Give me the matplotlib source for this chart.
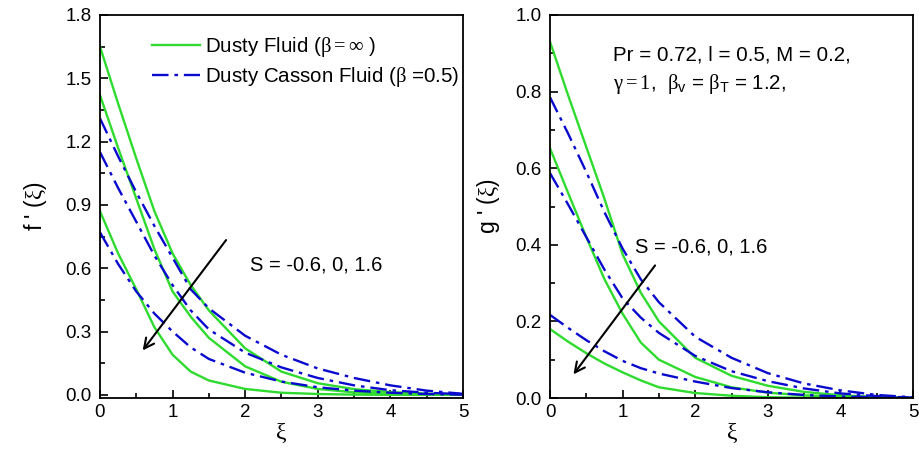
import matplotlib
matplotlib.use("Agg")
import matplotlib.pyplot as plt
from matplotlib.ticker import MultipleLocator, FormatStrFormatter

plt.rcParams['font.family'] = ['Liberation Sans', 'DejaVu Sans']
plt.rcParams['mathtext.fontset'] = 'custom'
plt.rcParams['mathtext.rm'] = 'Liberation Serif'
plt.rcParams['mathtext.it'] = 'Liberation Serif'
plt.rcParams['mathtext.bf'] = 'Liberation Serif:bold'
plt.rcParams['mathtext.sf'] = 'Liberation Sans'

xi = [0, 0.25, 0.5, 0.75, 1.0, 1.25, 1.5, 2.0, 2.5, 3.0, 3.5, 4.0, 4.5, 5.0]

# f'(xi): Dusty fluid (beta = inf), S = -0.6, 0, 1.6
f_dusty_s1 = [1.65, 1.38, 1.12, 0.87, 0.67, 0.52, 0.40, 0.22, 0.11, 0.055, 0.027, 0.013, 0.006, 0.002]
f_dusty_s2 = [1.42, 1.17, 0.93, 0.69, 0.49, 0.37, 0.27, 0.135, 0.062, 0.028, 0.012, 0.005, 0.002, 0.0]
f_dusty_s3 = [0.87, 0.67, 0.50, 0.32, 0.19, 0.11, 0.068, 0.028, 0.010, 0.004, 0.001, 0.0, 0.0, 0.0]
# f'(xi): Dusty Casson fluid (beta = 0.5)
f_casson_s1 = [1.31, 1.13, 0.96, 0.80, 0.65, 0.50, 0.41, 0.28, 0.19, 0.125, 0.08, 0.045, 0.02, 0.005]
f_casson_s2 = [1.15, 0.98, 0.82, 0.66, 0.52, 0.40, 0.31, 0.20, 0.13, 0.08, 0.045, 0.022, 0.01, 0.003]
f_casson_s3 = [0.77, 0.62, 0.49, 0.385, 0.30, 0.225, 0.17, 0.105, 0.063, 0.036, 0.02, 0.01, 0.004, 0.001]

# g'(xi)
g_dusty_s1 = [0.93, 0.79, 0.655, 0.52, 0.375, 0.275, 0.20, 0.105, 0.058, 0.032, 0.016, 0.007, 0.003, 0.0]
g_dusty_s2 = [0.652, 0.535, 0.42, 0.31, 0.22, 0.145, 0.10, 0.055, 0.028, 0.014, 0.007, 0.003, 0.001, 0.0]
g_dusty_s3 = [0.18, 0.147, 0.117, 0.09, 0.067, 0.046, 0.028, 0.013, 0.006, 0.002, 0.001, 0.0, 0.0, 0.0]
g_casson_s1 = [0.785, 0.69, 0.59, 0.485, 0.39, 0.31, 0.25, 0.16, 0.105, 0.065, 0.038, 0.02, 0.008, 0.002]
g_casson_s2 = [0.587, 0.505, 0.42, 0.335, 0.26, 0.21, 0.17, 0.11, 0.07, 0.044, 0.025, 0.012, 0.005, 0.001]
g_casson_s3 = [0.217, 0.183, 0.151, 0.122, 0.097, 0.078, 0.064, 0.043, 0.026, 0.015, 0.008, 0.004, 0.002, 0.0]

GREEN = '#2EDB2E'
BLUE = '#0A0ACF'
lw = 1.7
dash = (0, (7, 2.5, 1.5, 2.5))

fig = plt.figure(figsize=(9.19, 4.54), dpi=100)
ax1 = fig.add_axes([0.1088, 0.1233, 0.395, 0.8437])
ax2 = fig.add_axes([0.5985, 0.1233, 0.395, 0.8437])

for ax, dusty, casson in [
    (ax1, [f_dusty_s1, f_dusty_s2, f_dusty_s3], [f_casson_s1, f_casson_s2, f_casson_s3]),
    (ax2, [g_dusty_s1, g_dusty_s2, g_dusty_s3], [g_casson_s1, g_casson_s2, g_casson_s3]),
]:
    for i, d in enumerate(dusty):
        ax.plot(xi, d, color=GREEN, lw=lw, solid_joinstyle='round',
                label=r'Dusty Fluid ($\beta = \infty$ )' if i == 0 else None)
    for i, c in enumerate(casson):
        ax.plot(xi, c, color=BLUE, lw=lw, linestyle=dash,
                label=r'Dusty Casson Fluid ($\beta$ =0.5)' if i == 0 else None)
    ax.set_xlim(0, 5)
    ax.xaxis.set_major_locator(MultipleLocator(1))
    ax.xaxis.set_minor_locator(MultipleLocator(0.5))
    ax.tick_params(which='both', direction='in', labelsize=13.5, width=1.2)
    ax.tick_params(which='major', length=6)
    ax.tick_params(which='minor', length=3.5)
    ax.tick_params(axis='x', pad=4)
    ax.tick_params(axis='y', pad=6)
    for s in ax.spines.values():
        s.set_linewidth(1.3)
    ax.set_xlabel(r'$\xi$', fontsize=17, labelpad=1)

ax1.set_ylim(-0.015, 1.8)
ax1.yaxis.set_major_locator(MultipleLocator(0.3))
ax1.yaxis.set_minor_locator(MultipleLocator(0.15))
ax1.yaxis.set_major_formatter(FormatStrFormatter('%.1f'))
ax1.set_ylabel(r"f ' ($\xi$)", fontsize=16.5, labelpad=12)

ax2.set_ylim(0, 1.0)
ax2.yaxis.set_major_locator(MultipleLocator(0.2))
ax2.yaxis.set_minor_locator(MultipleLocator(0.1))
ax2.yaxis.set_major_formatter(FormatStrFormatter('%.1f'))
ax2.set_ylabel(r"g ' ($\xi$)", fontsize=16.5, labelpad=10)

leg = ax1.legend(loc='upper left', bbox_to_anchor=(0.143, 0.948), frameon=False,
                 fontsize=14.8, handlelength=2.35, handletextpad=0.25, labelspacing=0.3,
                 borderpad=0, borderaxespad=0)

ax1.annotate('', xy=(0.565, 0.20), xytext=(1.76, 0.744),
             arrowprops=dict(arrowstyle='->', color='black', lw=1.5, mutation_scale=18))
ax1.text(2.07, 0.616, 'S = -0.6, 0, 1.6', fontsize=14.5, va='center', ha='left')

ax2.annotate('', xy=(0.30, 0.056), xytext=(1.47, 0.352),
             arrowprops=dict(arrowstyle='->', color='black', lw=1.5, mutation_scale=18))
ax2.text(1.17, 0.395, 'S = -0.6, 0, 1.6', fontsize=14.5, va='center', ha='left')

ax2.text(0.87, 0.896, 'Pr = 0.72, l = 0.5, M = 0.2,', fontsize=14.8, va='center', ha='left')
ax2.text(0.87, 0.82, r'$\gamma = 1$,  $\beta_{\mathsf{v}}$ = $\beta_{\mathsf{T}}$ = 1.2,',
         fontsize=14.8, va='center', ha='left')

fig.savefig('out.png', dpi=100)
